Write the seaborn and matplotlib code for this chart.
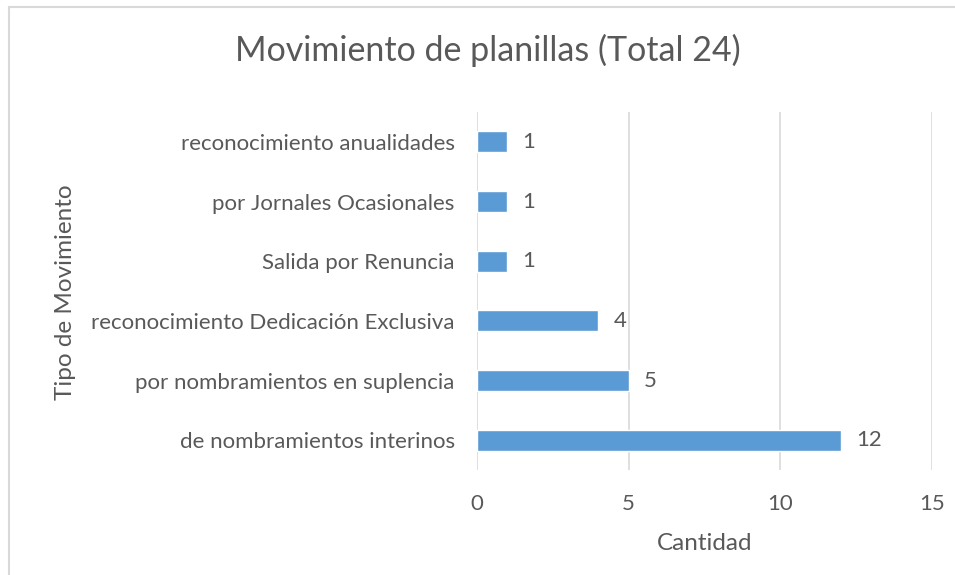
import numpy as np
import pandas as pd
import matplotlib
matplotlib.use('Agg')
import matplotlib.pyplot as plt
import seaborn as sns
from matplotlib.patches import Rectangle

tipos = ['reconocimiento anualidades', 'por Jornales Ocasionales', 'Salida por Renuncia',
         'reconocimiento Dedicación Exclusiva', 'por nombramientos en suplencia',
         'de nombramientos interinos']
cantidades = [1, 1, 1, 4, 5, 12]
x_ticks = [0, 5, 10, 15]

sns.set_theme(style='white')
plt.rcParams['font.family'] = ['Lato', 'DejaVu Sans']
text_color = '#595959'

df = pd.DataFrame({'tipo': tipos, 'cantidad': cantidades})

fig = plt.figure(figsize=(9.55, 5.75), dpi=100)
ax = fig.add_axes([0.4995, 0.1826, 0.4764, 0.6226])
sns.barplot(data=df, y='tipo', x='cantidad', orient='h', color='#5B9BD5',
            saturation=1, width=0.35, ax=ax)

for i, v in enumerate(cantidades):
    ax.annotate(str(v), (v, i), xytext=(11, 0), textcoords='offset points',
                va='center', ha='left', fontsize=16, color=text_color)

ax.set_xlim(0, 15)
ax.set_xticks(x_ticks)
ax.xaxis.grid(True, color='#D9D9D9', linewidth=1.2)
ax.set_axisbelow(True)
for s in ax.spines.values():
    s.set_visible(False)
ax.tick_params(axis='both', length=0, labelsize=16, labelcolor=text_color)
ax.tick_params(axis='x', pad=17)
ax.tick_params(axis='y', pad=16)
ax.set_xlabel('Cantidad', fontsize=17.5, color=text_color, labelpad=14)
ax.set_ylabel('')
fig.text(65 / 955, 1 - 292 / 575, 'Tipo de Movimiento', rotation=90, fontsize=17.5,
         color=text_color, ha='center', va='center')
fig.text(488 / 955, 1 - 50 / 575, 'Movimiento de planillas (Total 24)', fontsize=24.5,
         color=text_color, ha='center', va='center')

fig.patches.append(Rectangle((8.5 / 955, -0.1), 1.2, 1 - 6.5 / 575 + 0.1,
                             transform=fig.transFigure, fill=False,
                             edgecolor='#D9D9D9', linewidth=1.5))

fig.savefig('out.png', dpi=100)
